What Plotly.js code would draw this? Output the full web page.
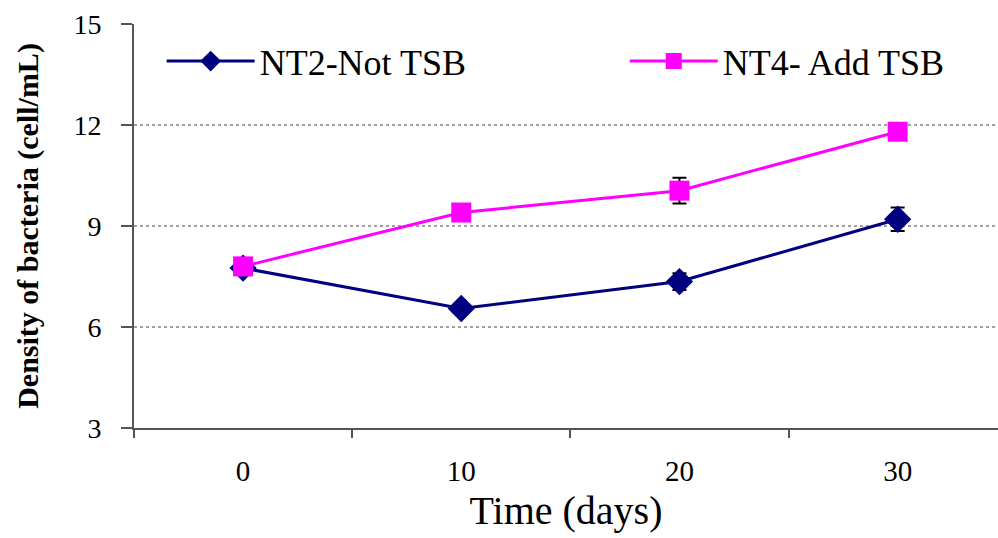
<!DOCTYPE html>
<html><head><meta charset="utf-8">
<script src="https://cdn.plot.ly/plotly-3.0.1.min.js"></script>
<style>html,body{margin:0;padding:0;background:#fff;}#chart{width:998px;height:538px;}</style>
</head><body><div id="chart"></div>
<script>
const days = ["0", "10", "20", "30"];
const nt2Values = [7.75, 6.55, 7.35, 9.2];
const nt2Errors = [0.08, 0.1, 0.25, 0.35];
const nt4Values = [7.8, 9.4, 10.05, 11.8];
const nt4Errors = [0.08, 0.15, 0.38, 0.12];
const yTicks = [3, 6, 9, 12, 15];
const gridValues = [6, 9, 12];
const seriesNames = ["NT2-Not TSB", "NT4- Add TSB"];

const font = "Liberation Serif, Times New Roman, serif";
const traces = [
  {x: days, y: nt2Values, name: seriesNames[0], type: "scatter", mode: "lines+markers",
   legend: "legend",
   line: {color: "#000080", width: 3},
   marker: {symbol: "diamond", size: 21, color: "#000080"},
   error_y: {type: "data", array: nt2Errors, visible: true, color: "#000000", thickness: 2, width: 7}},
  {x: days, y: nt4Values, name: seriesNames[1], type: "scatter", mode: "lines+markers",
   legend: "legend2",
   line: {color: "#FF00FF", width: 3},
   marker: {symbol: "square", size: 20, color: "#FF00FF"},
   error_y: {type: "data", array: nt4Errors, visible: true, color: "#000000", thickness: 2, width: 7}}
];
const shapes = gridValues.map(v => ({type: "line", xref: "paper", yref: "y", x0: 0, x1: 1, y0: v, y1: v,
  line: {color: "#808080", width: 1.5, dash: "3px,3px"}, layer: "below"}));
const legendBase = {orientation: "v", yanchor: "middle", xanchor: "left", y: 0.908, itemwidth: 88,
  font: {family: font, size: 36, color: "#000"}, bgcolor: "rgba(0,0,0,0)"};
const layout = {
  width: 998, height: 538,
  margin: {l: 134, r: 0, t: 24, b: 110},
  paper_bgcolor: "#fff", plot_bgcolor: "#fff",
  font: {family: font, color: "#000", size: 28},
  showlegend: true,
  legend: Object.assign({}, legendBase, {x: 0.032}),
  legend2: Object.assign({}, legendBase, {x: 0.568}),
  xaxis: {type: "category", range: [-0.5, 3.46], tickson: "boundaries", ticks: "outside", ticklen: 8,
    tickcolor: "#555", tickwidth: 2, showline: true, linecolor: "#555", linewidth: 2, showgrid: false,
    zeroline: false, tickfont: {family: font, size: 29, color: "#000"}, ticklabelstandoff: 16,
    title: {text: "Time (days)", font: {family: font, size: 40, color: "#000"}, standoff: 10}},
  yaxis: {range: [3, 15], tickvals: yTicks, ticks: "outside", ticklen: 11, tickcolor: "#555", tickwidth: 2,
    showline: true, linecolor: "#555", linewidth: 2, showgrid: false, zeroline: false,
    tickfont: {family: font, size: 28, color: "#000"}, ticklabelstandoff: 14,
    title: {text: "<b>Density of bacteria (cell/mL)</b>", font: {family: font, size: 30, color: "#000"}, standoff: 26}},
  shapes: shapes
};
Plotly.newPlot("chart", traces, layout, {displayModeBar: false});
</script></body></html>
